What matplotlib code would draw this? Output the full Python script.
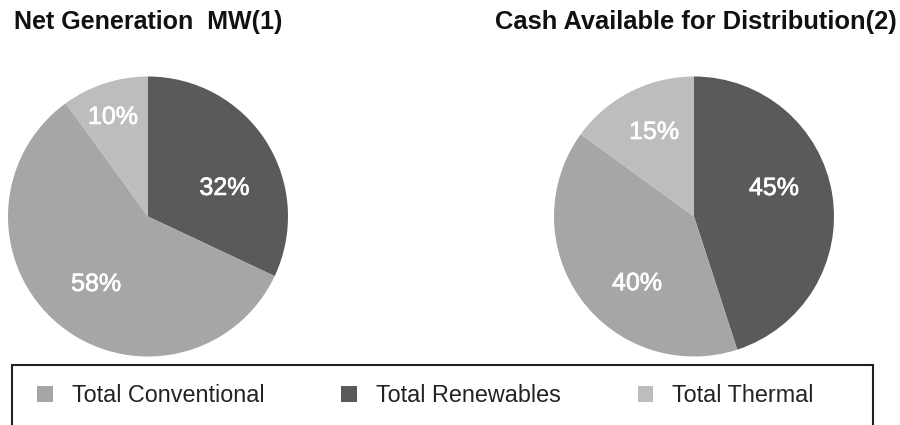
import matplotlib
matplotlib.use("Agg")
import matplotlib.pyplot as plt
from matplotlib.patches import Patch, Rectangle
import matplotlib.patheffects as pe
import numpy as np

plt.rcParams['font.family'] = ['Liberation Sans', 'DejaVu Sans']

# ---- data ----
categories = ["Total Renewables", "Total Conventional", "Total Thermal"]
net_generation = [32, 58, 10]
cash_available = [45, 40, 15]
titles = ["Net Generation  MW(1)", "Cash Available for Distribution(2)"]
legend_order = ["Total Conventional", "Total Renewables", "Total Thermal"]

# ---- styles ----
colors = {"Total Renewables": "#5a5a5a",
          "Total Conventional": "#a6a6a6",
          "Total Thermal": "#bdbdbd"}
# label placement (angle in degrees, radius fraction) per wedge, layout only
label_polar = [
    [(20.5, 0.583), (-127.6, 0.608), (109.4, 0.754)],
    [(19.6, 0.606), (-130.5, 0.626), (115.3, 0.668)],
]

W, H = 900, 425
fig = plt.figure(figsize=(W / 100, H / 100), dpi=100)

R = 140
centers = [(148, 216.5), (694, 216.5)]
series = [net_generation, cash_available]

for (cx, cy), vals, lp in zip(centers, series, label_polar):
    ax = fig.add_axes([(cx - R) / W, (H - cy - R) / H, 2 * R / W, 2 * R / H])
    wedges, texts, autotexts = ax.pie(
        vals, colors=[colors[c] for c in categories], startangle=90,
        counterclock=False, radius=1, autopct='%d%%',
        wedgeprops=dict(linewidth=0),
        textprops=dict(color='white', fontsize=18))
    for t, (ang, r) in zip(autotexts, lp):
        a = np.deg2rad(ang)
        t.set_position((r * np.cos(a), r * np.sin(a)))
        t.set_ha('center'); t.set_va('center')
        t.set_path_effects([pe.withStroke(linewidth=0.5, foreground='white')])
    ax.set_xlim(-1, 1); ax.set_ylim(-1, 1)
    ax.set_aspect('equal')
    ax.axis('off')

# titles
fig.text(14 / W, 1 - 29 / H, titles[0], fontsize=18, fontweight='bold',
         ha='left', va='baseline', color='#111111')
fig.text(897 / W, 1 - 29 / H, titles[1], fontsize=18.4, fontweight='bold',
         ha='right', va='baseline', color='#111111')

# legend box
box = Rectangle((12 / W, -0.1), 861 / W, 0.1 + (1 - 365 / H),
                transform=fig.transFigure, fill=False,
                edgecolor='#222222', linewidth=1.5, clip_on=False)
fig.patches.append(box)

handles = [Patch(facecolor=colors[c], edgecolor='none', label=c) for c in legend_order]
fig.legend(handles=handles, loc='center left',
           bbox_to_anchor=(37 / W, 1 - 396 / H), ncol=3, frameon=False,
           fontsize=16.8, handlelength=0.68, handleheight=0.68,
           handletextpad=0.8, columnspacing=3.3, borderpad=0,
           borderaxespad=0, labelcolor='#222222')

fig.savefig("out.png", dpi=100)
